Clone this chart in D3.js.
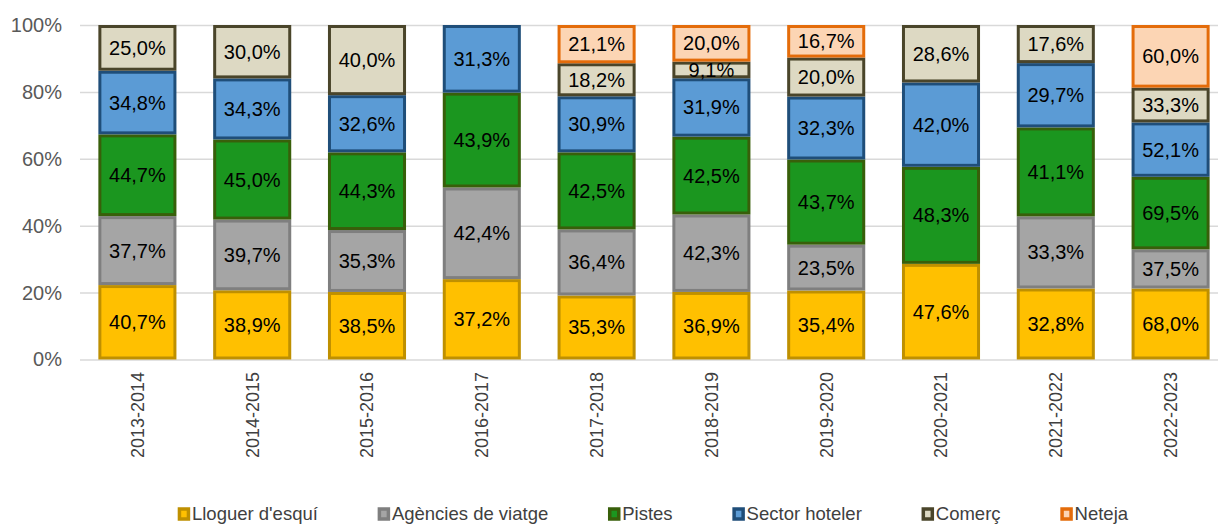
<!DOCTYPE html>
<html>
<head>
<meta charset="utf-8">
<script src="https://cdn.jsdelivr.net/npm/d3@7"></script>
<style>
  body { margin: 0; background: #fff; }
  text { font-family: "Liberation Sans", Arial, sans-serif; }
</style>
</head>
<body>
<div id="chart"></div>
<script>
// values shown on each segment (the bars are the 100% stack of them)
const seasons = ['2013-2014', '2014-2015', '2015-2016', '2016-2017', '2017-2018',
  '2018-2019', '2019-2020', '2020-2021', '2021-2022', '2022-2023']
const lloguer = [40.7, 38.9, 38.5, 37.2, 35.3, 36.9, 35.4, 47.6, 32.8, 68.0]
const agencies = [37.7, 39.7, 35.3, 42.4, 36.4, 42.3, 23.5, 0, 33.3, 37.5]
const pistes = [44.7, 45.0, 44.3, 43.9, 42.5, 42.5, 43.7, 48.3, 41.1, 69.5]
const hoteler = [34.8, 34.3, 32.6, 31.3, 30.9, 31.9, 32.3, 42.0, 29.7, 52.1]
const comerc = [25.0, 30.0, 40.0, 0, 18.2, 9.1, 20.0, 28.6, 17.6, 33.3]
const neteja = [0, 0, 0, 0, 21.1, 20.0, 16.7, 0, 0, 60.0]

const seriesNames = ["Lloguer d'esquí", 'Agències de viatge', 'Pistes', 'Sector hoteler', 'Comerç', 'Neteja']
const seriesValues = [lloguer, agencies, pistes, hoteler, comerc, neteja]
const yTicks = [0, 20, 40, 60, 80, 100]

const fills = ['#FFC000', '#A5A5A5', '#1B961F', '#5B9BD5', '#DDD9C3', '#FCD5B4']
const strokes = ['#BF9000', '#7F7F7F', '#385F0A', '#1F4E79', '#4A452A', '#E46C0A']

const width = 1218
const height = 525
const plot = { left: 80, right: 1218, top: 25, bottom: 359.5 }

const table = seasons.map((s, i) => {
  const row = { season: s }
  seriesNames.forEach((k, j) => { row[k] = seriesValues[j][i] })
  return row
})

const stacked = d3.stack()
  .keys(seriesNames)
  .offset(d3.stackOffsetExpand)(table)

const x = d3.scaleBand()
  .domain(seasons)
  .range([plot.left, 1228])
  .paddingInner(0.32)
  .paddingOuter(0.16)

const y = d3.scaleLinear()
  .domain([0, 1])
  .range([plot.bottom, plot.top])

const svg = d3.select('#chart').append('svg')
  .attr('width', width)
  .attr('height', height)

// gridlines + y labels
const yAxis = svg.append('g')
  .attr('transform', 'translate(' + plot.left + ',0)')
  .call(d3.axisLeft(y)
    .tickValues(yTicks.map(v => v / 100))
    .tickSize(-(plot.right - plot.left))
    .tickPadding(18)
    .tickFormat(d => Math.round(d * 100) + '%'))
yAxis.select('.domain').remove()
yAxis.selectAll('line').attr('stroke', '#D9D9D9').attr('stroke-width', 1.5)
yAxis.selectAll('text').attr('fill', '#595959').style('font-size', '20px')

// bars
const layer = svg.append('g').selectAll('g')
  .data(stacked)
  .join('g')
  .attr('fill', (d, i) => fills[i])
  .attr('stroke', (d, i) => strokes[i])
  .attr('stroke-width', 3)

layer.selectAll('rect')
  .data(d => d.filter(p => p[1] - p[0] > 0))
  .join('rect')
  .attr('x', d => x(d.data.season) + 1.5)
  .attr('width', x.bandwidth() - 3)
  .attr('y', d => y(d[1]) + 1.5)
  .attr('height', d => y(d[0]) - y(d[1]) - 3)

// segment labels
const labels = svg.append('g')
stacked.forEach(s => {
  s.filter(p => p[1] - p[0] > 0).forEach(p => {
    labels.append('text')
      .attr('x', x(p.data.season) + x.bandwidth() / 2)
      .attr('y', (y(p[0]) + y(p[1])) / 2)
      .attr('dy', '0.35em')
      .attr('text-anchor', 'middle')
      .attr('fill', '#000')
      .style('font-size', '20px')
      .text(p.data[s.key].toFixed(1).replace('.', ',') + '%')
  })
})

// x labels
const xAxis = svg.append('g')
  .attr('transform', 'translate(0,' + plot.bottom + ')')
  .call(d3.axisBottom(x).tickSize(0))
xAxis.select('.domain').remove()
xAxis.selectAll('text')
  .attr('transform', 'rotate(-90)')
  .attr('x', -12.5)
  .attr('y', 0)
  .attr('dy', '0.35em')
  .attr('text-anchor', 'end')
  .attr('fill', '#404040')
  .style('font-size', '18px')

// legend
const legend = svg.append('g').attr('transform', 'translate(0,514)')
const items = legend.selectAll('g')
  .data(seriesNames)
  .join('g')
items.append('rect')
  .attr('x', 1.5)
  .attr('y', -5)
  .attr('width', 9)
  .attr('height', 10)
  .attr('fill', (d, i) => fills[i])
  .attr('stroke', (d, i) => strokes[i])
  .attr('stroke-width', 3.5)
items.append('text')
  .attr('x', 14)
  .attr('dy', '0.35em')
  .attr('fill', '#404040')
  .style('font-size', '18.5px')
  .text(d => d)

const gap = 60
let cursor = 0
items.each(function () {
  const w = 14 + this.querySelector('text').getComputedTextLength()
  d3.select(this).attr('transform', 'translate(' + cursor + ',0)')
  cursor += w + gap
})
const total = cursor - gap
legend.attr('transform', 'translate(' + (653 - total / 2) + ',514)')
</script>
</body>
</html>
